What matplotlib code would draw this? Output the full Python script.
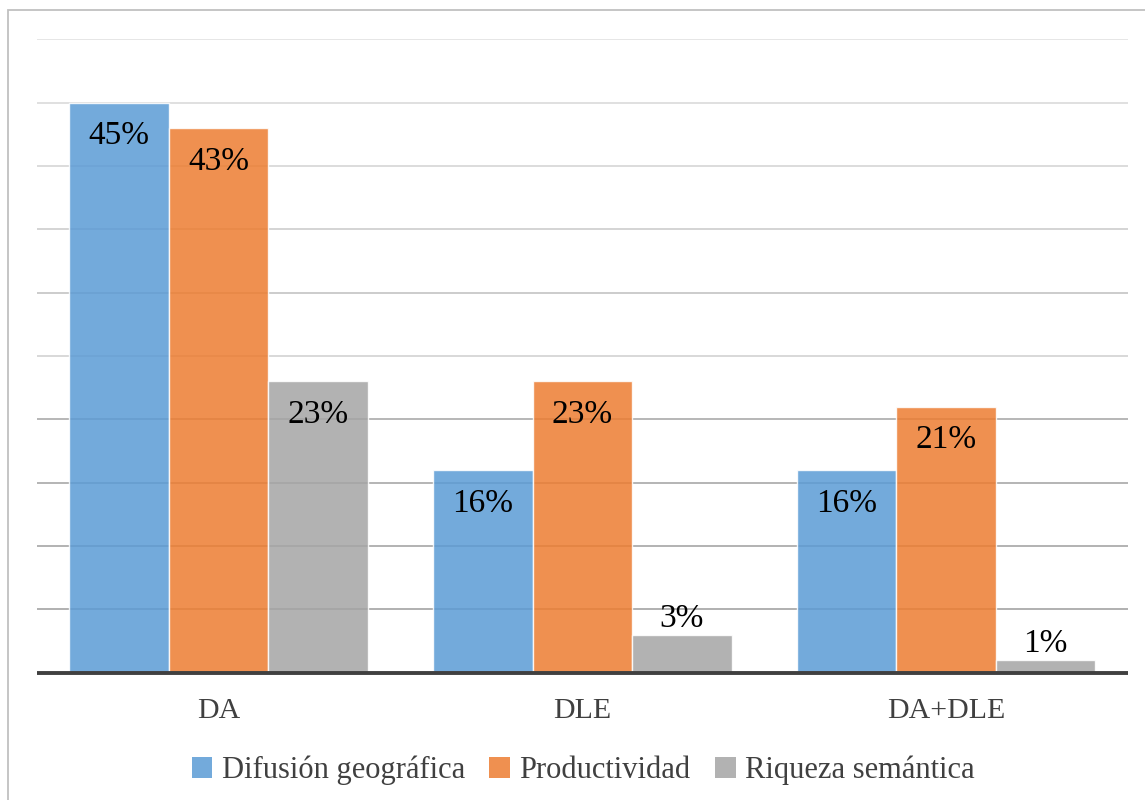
"""Grouped bar chart: DA / DLE / DA+DLE criteria shares."""

import matplotlib

matplotlib.use("Agg")
import matplotlib.patches as mpatches
import matplotlib.pyplot as plt
import numpy as np

# ── Data ────────────────────────────────────────────────────────────────
categories = ["DA", "DLE", "DA+DLE"]
series_names = ["Difusión geográfica", "Productividad", "Riqueza semántica"]
difusion = [45, 16, 16]
productividad = [43, 23, 21]
riqueza = [23, 3, 1]
grid_levels = [5, 10, 15, 20, 25, 30, 35, 40, 45, 50]

# ── Style ───────────────────────────────────────────────────────────────
COLORS = ["#5B9BD5", "#ED7D31", "#A5A5A5"]
BAR_ALPHA = 0.85
GRID_COLORS = ["#a3a3a3", "#a6a6a6", "#a8a8a8", "#aaaaaa", "#d2d2d2",
               "#c4c4c4", "#cdcdcd", "#d5d5d5", "#dadada", "#e2e2e2"]
TEXT_GRAY = "#404040"
SERIF = ["Liberation Serif", "DejaVu Serif"]
BAR_W = 0.2736

fig = plt.figure(figsize=(11.45, 8.0), dpi=100)
ax = fig.add_axes([36.6 / 1145, 1 - 672.7 / 800,
                   (1128 - 36.6) / 1145, (672.7 - 39.3) / 800])

x = np.arange(len(categories))
series = [difusion, productividad, riqueza]

for lvl, gc in zip(grid_levels, GRID_COLORS):
    ax.axhline(lvl, color=gc, lw=1.2, zorder=1)

for i, (vals, col, name) in enumerate(zip(series, COLORS, series_names)):
    pos = x + (i - 1) * BAR_W
    bars = ax.bar(pos, vals, BAR_W, color=col, alpha=BAR_ALPHA,
                  edgecolor="white", linewidth=1.0, zorder=2, label=name)
    for b, v in zip(bars, vals):
        # tall bars: label inside near the top; short bars: above
        off = -33.5 if v >= 10 else 16
        ax.annotate(f"{v}%", (b.get_x() + b.get_width() / 2, v),
                    xytext=(0, off * 72 / 100), textcoords="offset points",
                    ha="center", va="center", fontsize=24, family=SERIF,
                    color="black", zorder=3)

ax.set_xlim(-0.5, len(categories) - 0.5)
ax.set_ylim(0, 50)
ax.axhline(0, color="#404040", lw=2.8, zorder=4, clip_on=False,
           solid_capstyle="butt")
ax.set_yticks([])
ax.set_xticks(x)
ax.set_xticklabels(categories, family=SERIF, fontsize=21.5, color=TEXT_GRAY)
ax.tick_params(axis="x", length=0, pad=18)
for s in ax.spines.values():
    s.set_visible(False)

# legend
handles = [mpatches.Patch(facecolor=c, alpha=BAR_ALPHA, edgecolor="none")
           for c in COLORS]
leg = fig.legend(handles, series_names, loc="center",
                 bbox_to_anchor=(583 / 1145, 1 - 770 / 800), ncol=3,
                 frameon=False, prop={"family": SERIF, "size": 22},
                 handlelength=0.68, handleheight=0.68, handletextpad=0.3,
                 columnspacing=0.8)
for t in leg.get_texts():
    t.set_color(TEXT_GRAY)

# outer chart frame
frame = mpatches.Rectangle((8 / 1145, -0.1), 1.2, 1.1 - 10 / 800,
                           transform=fig.transFigure, fill=False,
                           edgecolor="#c0c0c0", lw=1.3, clip_on=False)
fig.patches.append(frame)

fig.savefig("out.png", dpi=100)
